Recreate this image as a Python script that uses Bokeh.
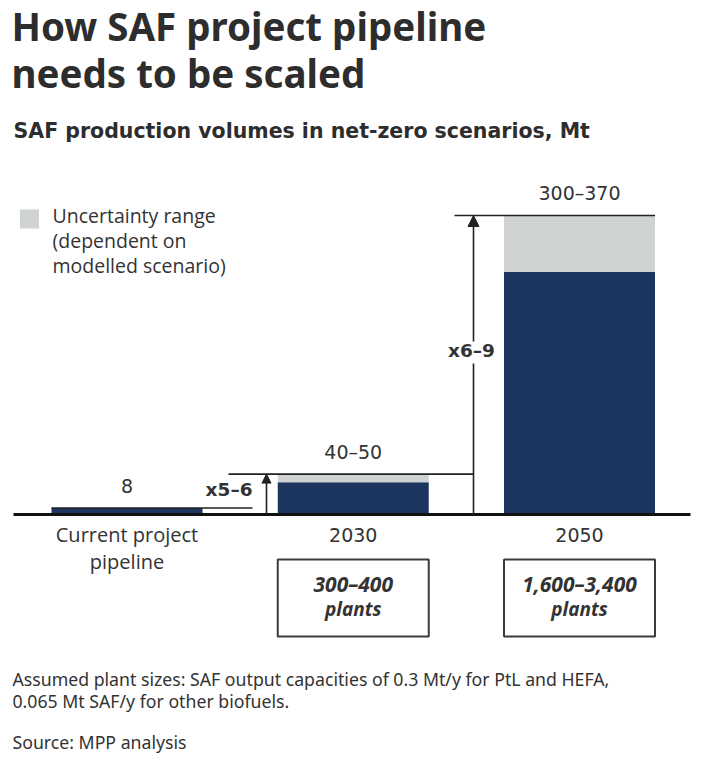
from bokeh.plotting import figure
from bokeh.models import Range1d, ColumnDataSource, Arrow, NormalHead
from bokeh.core.properties import value
from bokeh.embed import file_html
from bokeh.resources import INLINE

# ---------------- data ----------------
categories = ["Current project", "2030", "2050"]
category_line2 = ["pipeline", "", ""]
low_mt = [8, 40, 300]          # lower bound of production (Mt)
high_mt = [8, 50, 370]         # upper bound of production (Mt)
value_labels = ["8", "40\u201350", "300\u2013370"]
plant_counts = ["", "300\u2013400", "1,600\u20133,400"]
multiplier_labels = ["x5\u20136", "x6\u20139"]

title_lines = ["How SAF project pipeline", "needs to be scaled"]
subtitle = "SAF production volumes in net-zero scenarios, Mt"
legend_lines = ["Uncertainty range", "(dependent on", "modelled scenario)"]
foot_lines = ["Assumed plant sizes: SAF output capacities of 0.3 Mt/y for PtL and HEFA,",
              "0.065 Mt SAF/y for other biofuels."]
source_line = "Source: MPP analysis"

# ---------------- layout helpers ----------------
W, H = 703, 758
OX, OY = 0, 0
BASE_REF = 514.0
TOP_REF = 215.0
K = (BASE_REF - TOP_REF) / max(high_mt)   # px per Mt
X0_REF = 126.5
S = 226.25                                 # px per category
SHIFT = 0.44                               # baseline correction (em)


def fx(xr):
    return (xr - X0_REF) / S


def fy(yr):
    return (BASE_REF - yr) / K


def tb(b, fs):
    """data y for a text whose alphabetic baseline should sit at reference y=b"""
    return fy(b - SHIFT * fs)


NAVY = "#1c355e"
GREY = "#cfd3d4"
TXT = "#333333"
BW = 151 / S
NUM_FONT = value("DejaVu Sans")
WORD_FONT = value("Open Sans")
HEAD_FONT = value("Noto Sans")

p = figure(width=W, height=H, x_range=Range1d(fx(OX), fx(OX + W)),
           y_range=Range1d(fy(OY + H), fy(OY)),
           x_axis_location=None, y_axis_location=None,
           toolbar_location=None, output_backend="svg", min_border=0)
p.grid.visible = False
p.outline_line_color = None
p.background_fill_color = "white"

idx = list(range(len(categories)))
src = ColumnDataSource(dict(x=idx, low=low_mt, high=high_mt, lab=value_labels))

# bars
p.vbar(x="x", width=BW, bottom=0, top="low", source=src, fill_color=NAVY, line_color=None)
p.vbar(x="x", width=BW, bottom="low", top="high", source=src, fill_color=GREY, line_color=None)

# baseline
p.segment(x0=[fx(13)], y0=[0], x1=[fx(690)], y1=[0], line_color="#111111", line_width=3)

# value labels
p.text(x="x", y="high", text="lab", source=src, y_offset=-14 - SHIFT * 19,
       text_font=NUM_FONT, text_font_size="19px", text_align="center",
       text_baseline="alphabetic", text_color=TXT)

# comparison lines
p.segment(x0=[0 - BW / 2, fx(228), fx(454)],
          y0=[high_mt[0], high_mt[1], high_mt[2]],
          x1=[fx(252), fx(473), 2 + BW / 2],
          y1=[high_mt[0], high_mt[1], high_mt[2]],
          line_color="#222222", line_width=1.6)

# vertical connector below the x6-9 label
p.segment(x0=[fx(473)], y0=[0], x1=[fx(473)], y1=[fy(363)], line_color="#222222", line_width=1.6)

# arrows
p.add_layout(Arrow(x_start=fx(266), y_start=0, x_end=fx(266), y_end=high_mt[1],
                   line_color="#222222", line_width=1.6,
                   end=NormalHead(size=9, fill_color="#222222", line_color="#222222", line_width=1)))
p.add_layout(Arrow(x_start=fx(473), y_start=fy(341), x_end=fx(473), y_end=high_mt[2],
                   line_color="#222222", line_width=1.6,
                   end=NormalHead(size=11, fill_color="#222222", line_color="#222222", line_width=1)))

# multiplier labels
p.text(x=[fx(252)], y=[tb(497, 18.5)], text=[multiplier_labels[0]], text_font=NUM_FONT,
       text_font_size="18.5px", text_font_style="bold", text_align="right",
       text_baseline="alphabetic", text_color=TXT)
p.text(x=[fx(471)], y=[tb(358, 18.5)], text=[multiplier_labels[1]], text_font=NUM_FONT,
       text_font_size="18.5px", text_font_style="bold", text_align="center",
       text_baseline="alphabetic", text_color=TXT)

# category labels
p.text(x=[0], y=[tb(543, 20)], text=[categories[0]], text_font=WORD_FONT,
       text_font_size="20px", text_align="center", text_baseline="alphabetic", text_color=TXT)
p.text(x=idx[1:], y=[tb(543, 19)] * 2, text=categories[1:], text_font=NUM_FONT,
       text_font_size="19px", text_align="center", text_baseline="alphabetic", text_color=TXT)
p.text(x=idx, y=[tb(570, 20)] * 3, text=category_line2, text_font=WORD_FONT,
       text_font_size="20px", text_align="center", text_baseline="alphabetic", text_color=TXT)

# plant boxes
box_x = [i for i in idx if plant_counts[i]]
p.rect(x=box_x, y=[fy(597.5)] * len(box_x), width=BW, height=(636 - 559) / K,
       fill_color=None, line_color="#3a3a3a", line_width=2)
p.text(x=box_x, y=[tb(593, 21)] * len(box_x), text=[plant_counts[i] for i in box_x],
       text_font=WORD_FONT, text_font_size="21px", text_font_style="bold italic",
       text_align="center", text_baseline="alphabetic", text_color=TXT)
p.text(x=box_x, y=[tb(617, 19)] * len(box_x), text=["plants"] * len(box_x),
       text_font=WORD_FONT, text_font_size="19px", text_font_style="bold italic",
       text_align="center", text_baseline="alphabetic", text_color=TXT)

# legend
p.scatter(x=[fx(29)], y=[fy(218.5)], marker="square", size=19, fill_color=GREY, line_color=None)
p.text(x=[fx(52)] * 3, y=[tb(224, 19.5), tb(249, 19.5), tb(274, 19.5)], text=legend_lines,
       text_font=WORD_FONT, text_font_size="19.5px", text_align="left",
       text_baseline="alphabetic", text_color=TXT)

# title & subtitle
p.text(x=[fx(11)] * 2, y=[tb(42, 38.5), tb(89, 38.5)], text=title_lines, text_font=HEAD_FONT,
       text_font_size="38.5px", text_font_style="bold", text_align="left",
       text_baseline="alphabetic", text_color="#2d2d2d")
p.text(x=[fx(13)], y=[tb(140, 20.5)], text=[subtitle], text_font=value("DejaVu Sans"),
       text_font_size="20.5px", text_font_style="bold", text_align="left",
       text_baseline="alphabetic", text_color="#2d2d2d")

# footnotes
p.text(x=[fx(12)] * 2, y=[tb(686, 17.7), tb(708, 17.7)], text=foot_lines, text_font=HEAD_FONT,
       text_font_size="17.7px", text_align="left", text_baseline="alphabetic", text_color=TXT)
p.text(x=[fx(12)], y=[tb(749, 17.7)], text=[source_line], text_font=HEAD_FONT,
       text_font_size="17.7px", text_align="left", text_baseline="alphabetic", text_color=TXT)

open("out.html", "w").write(file_html(p, INLINE))
